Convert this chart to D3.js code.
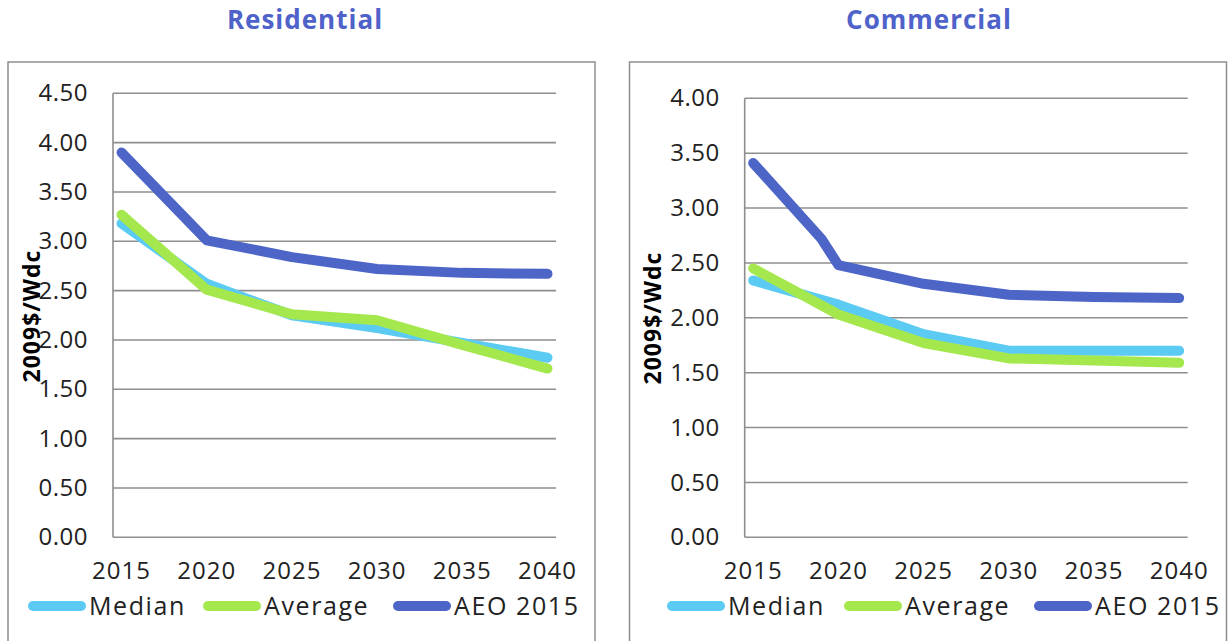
<!DOCTYPE html>
<html>
<head>
<meta charset="utf-8">
<script src="https://cdn.jsdelivr.net/npm/d3@7"></script>
<style>
  body { margin: 0; background: #fff; }
  svg text { font-family: "Open Sans", "DejaVu Sans", sans-serif; }
</style>
</head>
<body>
<div id="chart"></div>
<script>
// categories: every year on the axis, labels every 5 years
const years = [2015, 2016, 2017, 2018, 2019, 2020, 2021, 2022, 2023, 2024, 2025, 2026, 2027,
  2028, 2029, 2030, 2031, 2032, 2033, 2034, 2035, 2036, 2037, 2038, 2039, 2040]
const tickYears = [2015, 2020, 2025, 2030, 2035, 2040]
const seriesNames = ["Median", "Average", "AEO 2015"]

// Residential (2009$/Wdc)
const resYears = [2015, 2020, 2025, 2030, 2035, 2040]
const resMedian = [3.18, 2.57, 2.25, 2.12, 1.97, 1.82]
const resAverage = [3.27, 2.51, 2.26, 2.20, 1.95, 1.71]
const resAEO = [3.90, 3.01, 2.84, 2.72, 2.68, 2.67]
const resTicks = [0, 0.5, 1, 1.5, 2, 2.5, 3, 3.5, 4, 4.5]

// Commercial (2009$/Wdc)
const comYears = [2015, 2020, 2025, 2030, 2035, 2040]
const comAEOYears = [2015, 2019, 2020, 2025, 2030, 2035, 2040]
const comMedian = [2.34, 2.12, 1.85, 1.70, 1.70, 1.70]
const comAverage = [2.45, 2.03, 1.77, 1.63, 1.61, 1.59]
const comAEO = [3.41, 2.72, 2.48, 2.31, 2.21, 2.19, 2.18]
const comTicks = [0, 0.5, 1, 1.5, 2, 2.5, 3, 3.5, 4]

const colors = { "Median": "#5bcbf3", "Average": "#a5e84e", "AEO 2015": "#4e65c8" }
const gridColor = "#8e8e8e"

const svg = d3.select("#chart").append("svg")
  .attr("width", 1231)
  .attr("height", 641)

function zip(xs, ys) {
  return xs.map((x, i) => ({ year: x, value: ys[i] }))
}

function drawPanel(p) {
  const g = svg.append("g")

  // outer frame
  g.append("rect")
    .attr("x", p.frame[0]).attr("y", p.frame[1])
    .attr("width", p.frame[2]).attr("height", p.frame[3])
    .attr("fill", "none").attr("stroke", gridColor).attr("stroke-width", 1.5)

  g.append("text")
    .attr("x", p.titleX).attr("y", 29)
    .attr("text-anchor", "middle")
    .attr("font-size", 26).attr("font-weight", "bold")
    .attr("letter-spacing", 1)
    .attr("fill", "#4e62c9")
    .text(p.title)

  const x = d3.scaleBand().domain(years).range([p.left, p.right])
  const y = d3.scaleLinear().domain([0, d3.max(p.ticks)]).range([p.bottom, p.top])

  // gridlines
  g.append("g").selectAll("line").data(p.ticks).join("line")
    .attr("x1", p.left).attr("x2", p.right)
    .attr("y1", d => y(d)).attr("y2", d => y(d))
    .attr("stroke", gridColor).attr("stroke-width", 1.6)

  g.append("line")
    .attr("x1", p.left).attr("x2", p.left)
    .attr("y1", p.top).attr("y2", p.bottom)
    .attr("stroke", gridColor).attr("stroke-width", 1.6)

  const yAxis = g.append("g")
    .attr("transform", "translate(" + p.left + ",0)")
    .call(d3.axisLeft(y).tickValues(p.ticks).tickFormat(d3.format(".2f")).tickSize(0).tickPadding(25))
  yAxis.select(".domain").remove()
  yAxis.selectAll("text").attr("font-size", 24).attr("letter-spacing", 0.5)
    .attr("fill", "#222").attr("font-family", "Open Sans")

  const xAxis = g.append("g")
    .attr("transform", "translate(0," + p.bottom + ")")
    .call(d3.axisBottom(x).tickValues(tickYears).tickSize(0).tickPadding(25))
  xAxis.select(".domain").remove()
  xAxis.selectAll("text").attr("font-size", 24).attr("letter-spacing", 1)
    .attr("fill", "#222").attr("font-family", "Open Sans")

  // y axis title
  g.append("text")
    .attr("transform", "translate(" + p.yTitleX + "," + p.yTitleY + ") rotate(-90)")
    .attr("text-anchor", "middle")
    .attr("font-size", 23).attr("font-weight", "bold")
    .attr("letter-spacing", 1)
    .attr("fill", "#000")
    .attr("font-family", "DejaVu Sans")
    .text("2009$/Wdc")

  const line = d3.line()
    .x(d => x(d.year) + x.bandwidth() / 2)
    .y(d => y(d.value))

  p.series.forEach(s => {
    g.append("path")
      .datum(s.data)
      .attr("d", line)
      .attr("fill", "none")
      .attr("stroke", colors[s.name])
      .attr("stroke-width", 10)
      .attr("stroke-linecap", "round")
      .attr("stroke-linejoin", "round")
  })

  // legend
  const leg = g.append("g").selectAll("g").data(seriesNames).join("g")
    .attr("transform", (d, i) => "translate(" + p.legendX[i] + ",606)")
  leg.append("line")
    .attr("x1", 5).attr("x2", 53)
    .attr("stroke", d => colors[d]).attr("stroke-width", 10).attr("stroke-linecap", "round")
  leg.append("text")
    .attr("x", 61).attr("y", 9)
    .attr("font-size", 25).attr("letter-spacing", 1.6).attr("fill", "#222")
    .text(d => d)
}

drawPanel({
  title: "Residential", titleX: 305,
  frame: [8, 62, 587, 600],
  left: 113, right: 556, top: 93.3, bottom: 537.3,
  ticks: resTicks,
  yTitleX: 40, yTitleY: 316,
  legendX: [28, 203, 393],
  series: [
    { name: "Median", data: zip(resYears, resMedian) },
    { name: "Average", data: zip(resYears, resAverage) },
    { name: "AEO 2015", data: zip(resYears, resAEO) }
  ]
})

drawPanel({
  title: "Commercial", titleX: 929,
  frame: [629.5, 62, 597, 600],
  left: 744.7, right: 1187.7, top: 98.3, bottom: 537.3,
  ticks: comTicks,
  yTitleX: 661, yTitleY: 318,
  legendX: [667, 844, 1034],
  series: [
    { name: "Median", data: zip(comYears, comMedian) },
    { name: "Average", data: zip(comYears, comAverage) },
    { name: "AEO 2015", data: zip(comAEOYears, comAEO) }
  ]
})
</script>
</body>
</html>
